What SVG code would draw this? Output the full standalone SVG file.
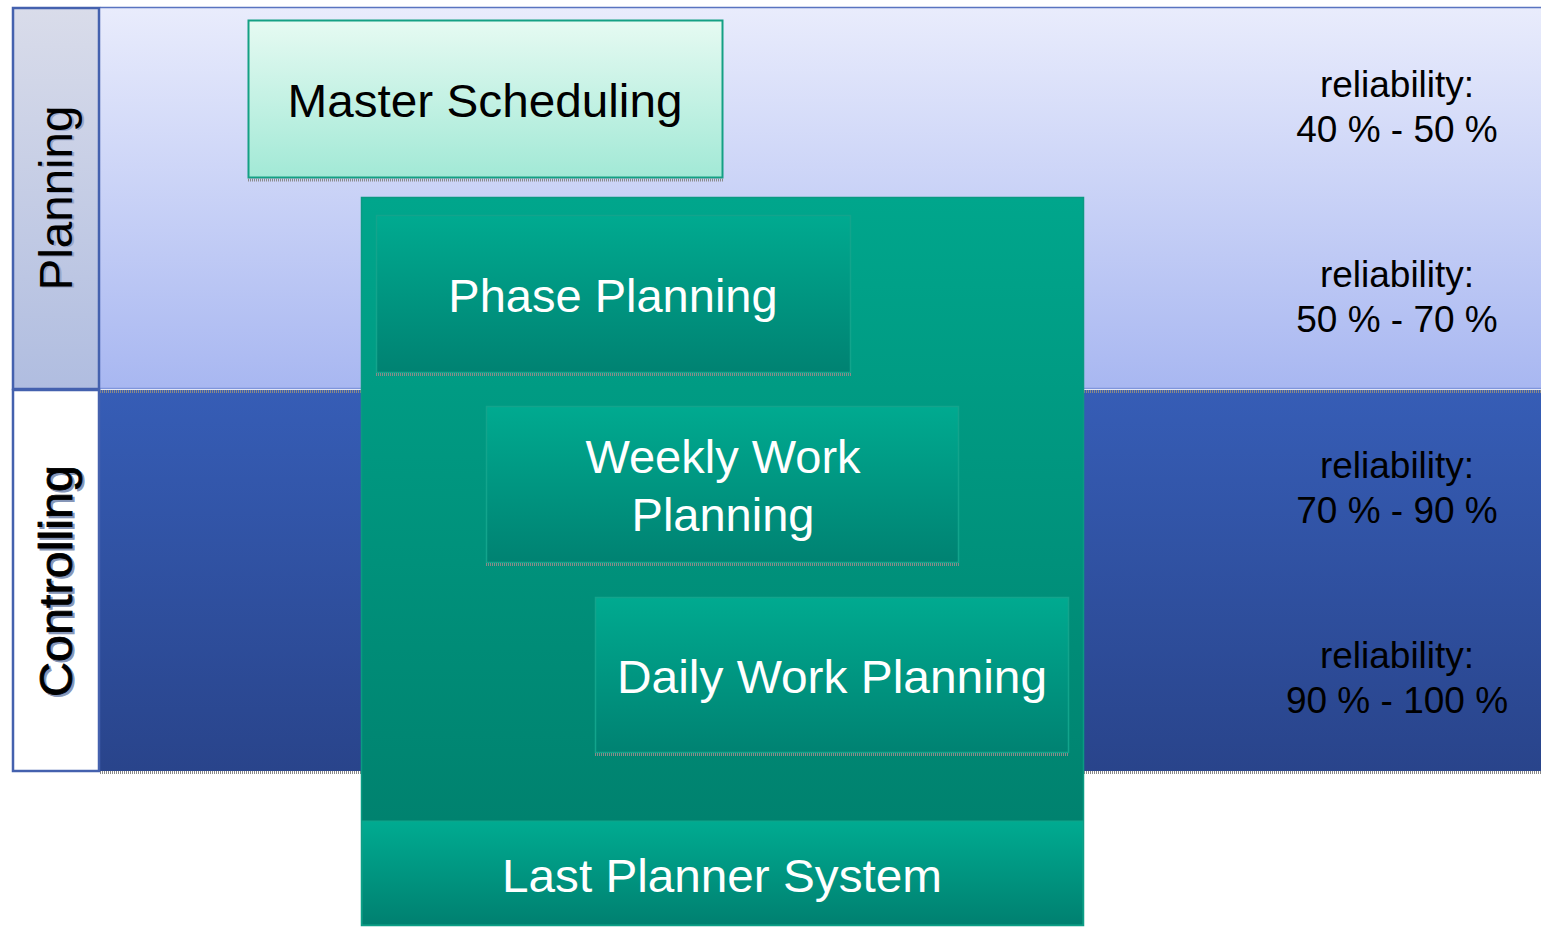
<svg xmlns="http://www.w3.org/2000/svg" width="1541" height="927" viewBox="0 0 1541 927">
<defs>
<linearGradient id="gPlanBand" x1="0" y1="0" x2="0" y2="1"><stop offset="0" stop-color="#e9ecfc"/><stop offset="1" stop-color="#a8b7f1"/></linearGradient>
<linearGradient id="gPlanLabel" x1="0" y1="0" x2="0" y2="1"><stop offset="0" stop-color="#d9dcea"/><stop offset="1" stop-color="#b0bde0"/></linearGradient>
<linearGradient id="gCtrlBand" x1="0" y1="0" x2="0" y2="1"><stop offset="0" stop-color="#365db6"/><stop offset="1" stop-color="#29448b"/></linearGradient>
<linearGradient id="gMaster" x1="0" y1="0" x2="0" y2="1"><stop offset="0" stop-color="#e6faf2"/><stop offset="1" stop-color="#a2e9d6"/></linearGradient>
<linearGradient id="gContainer" x1="0" y1="0" x2="0" y2="1"><stop offset="0" stop-color="#00a68c"/><stop offset="1" stop-color="#007c6a"/></linearGradient>
<linearGradient id="gBox" x1="0" y1="0" x2="0" y2="1"><stop offset="0" stop-color="#00aa90"/><stop offset="1" stop-color="#008272"/></linearGradient>
<linearGradient id="gLps" x1="0" y1="0" x2="0" y2="1"><stop offset="0" stop-color="#00ab91"/><stop offset="1" stop-color="#008070"/></linearGradient>
</defs>
<style>
.lbl{font-family:"Liberation Sans",Arial,sans-serif;font-size:47px;text-anchor:middle}
.white{fill:#ffffff}
.black{fill:#000000}
.rel{font-family:"Liberation Sans",Arial,sans-serif;font-size:37px;text-anchor:middle;fill:#000}
.dots{stroke:#8a8a8a;stroke-width:3;stroke-dasharray:1 1;fill:none}
.box{fill:url(#gBox);stroke:#13a48c;stroke-width:1.5}
</style>
<rect width="1541" height="927" fill="#ffffff"/>

<g id="band-planning">
<rect x="100" y="7" width="1441" height="382" fill="url(#gPlanBand)"/>
<line x1="100" y1="7.5" x2="1541" y2="7.5" stroke="#5a74c0" stroke-width="1.5"/>
<line x1="100" y1="388.5" x2="1541" y2="388.5" stroke="#7f95dc" stroke-width="1.5"/>
</g>
<g id="band-controlling">
<rect x="100" y="390" width="1441" height="381" fill="url(#gCtrlBand)"/>
<line class="dots" x1="100" y1="391.5" x2="1541" y2="391.5" stroke="#203468"/>
<line class="dots" x1="100" y1="772.5" x2="1541" y2="772.5"/>
</g>

<g id="label-planning">
<rect x="13" y="8" width="86" height="381" fill="url(#gPlanLabel)" stroke="#4461ae" stroke-width="2.5"/>
<text class="lbl" transform="translate(74,199) rotate(-90)" fill="#9aa6c8" textLength="185" lengthAdjust="spacingAndGlyphs">Planning</text>
<text class="lbl black" transform="translate(72,198) rotate(-90)" textLength="185" lengthAdjust="spacingAndGlyphs">Planning</text>
</g>
<g id="label-controlling">
<rect x="13" y="390" width="86" height="381" fill="#ffffff" stroke="#4461ae" stroke-width="2.5"/>
<text class="lbl" transform="translate(74,583) rotate(-90)" fill="#8696b8" stroke="#8696b8" stroke-width="1" textLength="232" lengthAdjust="spacingAndGlyphs">Controlling</text>
<text class="lbl black" transform="translate(72,581) rotate(-90)" stroke="#000" stroke-width="0.8" textLength="232" lengthAdjust="spacingAndGlyphs">Controlling</text>
</g>

<g id="master-scheduling">
<rect x="248.5" y="20.5" width="474" height="157" fill="url(#gMaster)" stroke="#14a084" stroke-width="2"/>
<line class="dots" x1="248" y1="180" x2="723" y2="180"/>
<text class="lbl black" x="485" y="117" textLength="395" lengthAdjust="spacingAndGlyphs">Master Scheduling</text>
</g>

<g id="last-planner-system">
<rect x="361.5" y="197.5" width="722" height="728" fill="url(#gContainer)" stroke="#0b9a82" stroke-width="1.5"/>
<rect x="362" y="821" width="721" height="104" fill="url(#gLps)" stroke="#10a48a" stroke-width="1"/>
<text class="lbl white" x="722" y="892" textLength="440" lengthAdjust="spacingAndGlyphs">Last Planner System</text>
</g>

<g id="phase-planning">
<rect class="box" x="376.5" y="215.5" width="474" height="157"/>
<line class="dots" x1="376" y1="374.5" x2="851" y2="374.5" stroke="#2a4a40"/>
<text class="lbl white" x="613" y="312">Phase Planning</text>
</g>

<g id="weekly-work-planning">
<rect class="box" x="486.5" y="406.5" width="472" height="156"/>
<line class="dots" x1="486" y1="564.5" x2="959" y2="564.5" stroke="#2a4a40"/>
<text class="lbl white" x="723" y="473">Weekly Work</text>
<text class="lbl white" x="723" y="531">Planning</text>
</g>

<g id="daily-work-planning">
<rect class="box" x="595.5" y="597.5" width="473" height="155"/>
<line class="dots" x1="595" y1="754.5" x2="1069" y2="754.5" stroke="#2a4a40"/>
<text class="lbl white" x="832" y="693" textLength="430" lengthAdjust="spacingAndGlyphs">Daily Work Planning</text>
</g>

<g id="reliability-labels">
<text class="rel" x="1397" y="97">reliability:</text>
<text class="rel" x="1397" y="142">40 % - 50 %</text>
<text class="rel" x="1397" y="287">reliability:</text>
<text class="rel" x="1397" y="332">50 % - 70 %</text>
<text class="rel" x="1397" y="478">reliability:</text>
<text class="rel" x="1397" y="523">70 % - 90 %</text>
<text class="rel" x="1397" y="668">reliability:</text>
<text class="rel" x="1397" y="713">90 % - 100 %</text>
</g>

<g id="connectors"></g>
</svg>
